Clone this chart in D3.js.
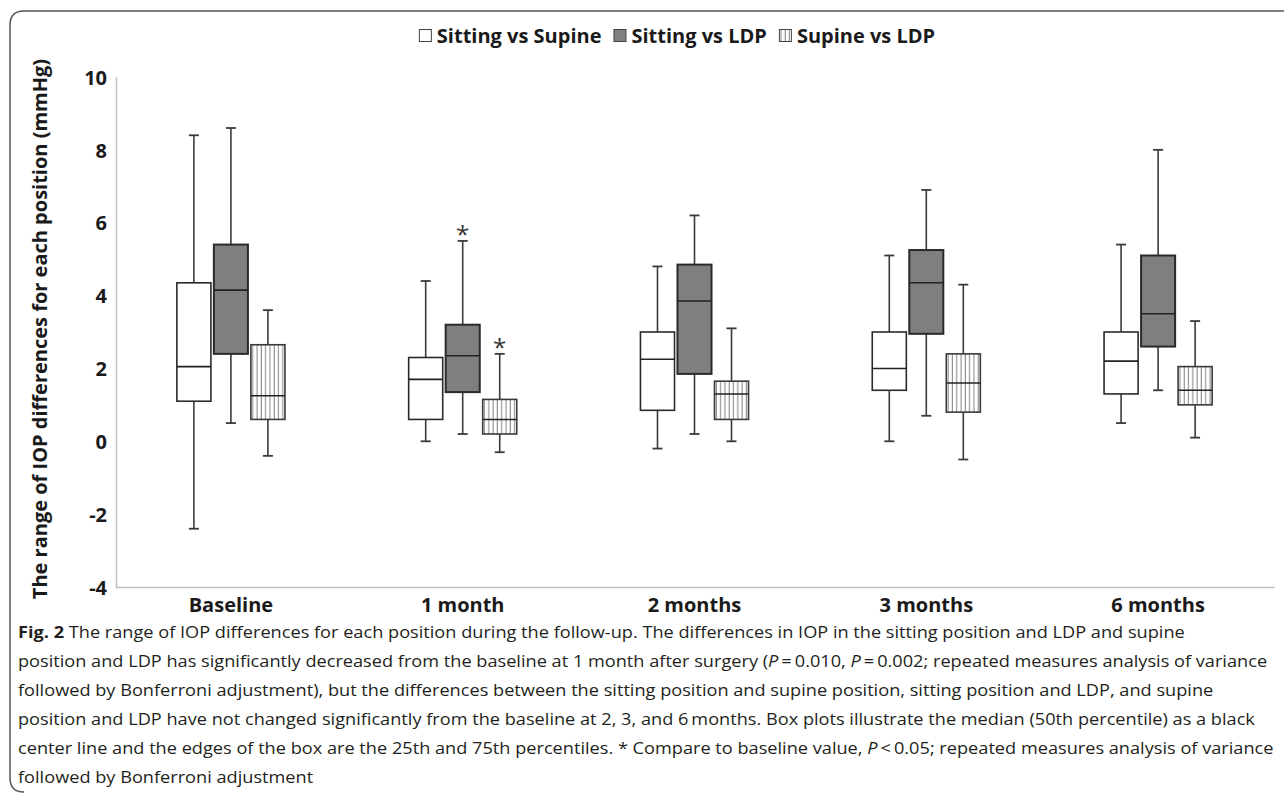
<!DOCTYPE html>
<html>
<head>
<meta charset="utf-8"/>
<title>IOP differences</title>
<script src="https://cdn.jsdelivr.net/npm/d3@7"></script>
<style>
html, body {
    margin: 0;
    padding: 0;
    background: #ffffff;
}
svg text {
    font-family: "Open Sans", "Noto Sans", sans-serif;
}
</style>
</head>
<body>

<svg id="chart" width="1284" height="793"></svg>

<script>

// Categories and series.
const categories = ["Baseline", "1 month", "2 months", "3 months", "6 months"];
const series = ["Sitting vs Supine", "Sitting vs LDP", "Supine vs LDP"];
const yTicks = [-4, -2, 0, 2, 4, 6, 8, 10];

// Sitting vs Supine: whisker low, 25th, median, 75th, whisker high.
const sitSupMin = [-2.4, 0.0, -0.2, 0.0, 0.5];
const sitSupQ1  = [1.1, 0.6, 0.85, 1.4, 1.3];
const sitSupMed = [2.05, 1.7, 2.25, 2.0, 2.2];
const sitSupQ3  = [4.35, 2.3, 3.0, 3.0, 3.0];
const sitSupMax = [8.4, 4.4, 4.8, 5.1, 5.4];

// Sitting vs LDP.
const sitLdpMin = [0.5, 0.2, 0.2, 0.7, 1.4];
const sitLdpQ1  = [2.4, 1.35, 1.85, 2.95, 2.6];
const sitLdpMed = [4.15, 2.35, 3.85, 4.35, 3.5];
const sitLdpQ3  = [5.4, 3.2, 4.85, 5.25, 5.1];
const sitLdpMax = [8.6, 5.5, 6.2, 6.9, 8.0];

// Supine vs LDP.
const supLdpMin = [-0.4, -0.3, 0.0, -0.5, 0.1];
const supLdpQ1  = [0.6, 0.2, 0.6, 0.8, 1.0];
const supLdpMed = [1.25, 0.6, 1.3, 1.6, 1.4];
const supLdpQ3  = [2.65, 1.15, 1.65, 2.4, 2.05];
const supLdpMax = [3.6, 2.4, 3.1, 4.3, 3.3];

// Significant vs baseline (asterisks).
const starCategory = ["1 month", "1 month"];
const starSeries = ["Sitting vs LDP", "Supine vs LDP"];

const yTitle = "The range of IOP differences for each position (mmHg)";

const caption = [
    [{t: "Fig. 2", b: true}, {t: "  The range of IOP differences for each position during the follow-up. The differences in IOP in the sitting position and LDP and supine"}],
    [{t: "position and LDP has significantly decreased from the baseline at 1 month after surgery ("}, {t: "P", i: true}, {t: "\u2009=\u20090.010, "}, {t: "P", i: true}, {t: "\u2009=\u20090.002; repeated measures analysis of variance"}],
    [{t: "followed by Bonferroni adjustment), but the differences between the sitting position and supine position, sitting position and LDP, and supine"}],
    [{t: "position and LDP have not changed significantly from the baseline at 2, 3, and 6\u2009months. Box plots illustrate the median (50th percentile) as a black"}],
    [{t: "center line and the edges of the box are the 25th and 75th percentiles. * Compare to baseline value, "}, {t: "P", i: true}, {t: "\u2009<\u20090.05; repeated measures analysis of variance"}],
    [{t: "followed by Bonferroni adjustment"}]
];

// Build box records from the arrays.
const stats = [
    [sitSupMin, sitSupQ1, sitSupMed, sitSupQ3, sitSupMax],
    [sitLdpMin, sitLdpQ1, sitLdpMed, sitLdpQ3, sitLdpMax],
    [supLdpMin, supLdpQ1, supLdpMed, supLdpQ3, supLdpMax]
];
const boxes = [];
series.forEach((s, si) => {
    categories.forEach((c, ci) => {
        boxes.push({
            series: s, cat: c,
            min: stats[si][0][ci], q1: stats[si][1][ci], med: stats[si][2][ci],
            q3: stats[si][3][ci], max: stats[si][4][ci]
        });
    });
});

const svg = d3.select("#chart");

// Pattern for the hatched series.
const defs = svg.append("defs");
defs.append("pattern")
    .attr("id", "vhatch")
    .attr("patternUnits", "userSpaceOnUse")
    .attr("width", 4.3)
    .attr("height", 10)
    .append("line")
    .attr("x1", 2).attr("x2", 2)
    .attr("y1", 0).attr("y2", 10)
    .attr("stroke", "#808080")
    .attr("stroke-width", 1);

const fills = {"Sitting vs Supine": "#ffffff", "Sitting vs LDP": "#7f7f7f", "Supine vs LDP": "url(#vhatch)"};

// Frame.
svg.append("path")
    .attr("d", "M1284,11 H24 Q10,11 10,25 V778 Q10,792 24,792")
    .attr("fill", "none")
    .attr("stroke", "#555555")
    .attr("stroke-width", 1.5);

// Scales.
const x = d3.scaleBand().domain(categories).range([115, 1274]);
const sub = d3.scaleBand().domain(series).range([-57, 57]).padding(0.08);
const y = d3.scaleLinear().domain([-4, 10]).range([587, 77]);

// Axes.
const yAxis = svg.append("g")
    .attr("transform", "translate(116,0)")
    .call(d3.axisLeft(y).tickValues(yTicks).tickSize(0).tickPadding(9).tickFormat(d => d < 0 ? "-" + Math.abs(d) : d));
const xAxis = svg.append("g")
    .attr("transform", "translate(0,587)")
    .call(d3.axisBottom(x).tickSize(0).tickPadding(11));
[yAxis, xAxis].forEach(g => {
    g.select(".domain").attr("stroke", "#bfbfbf").attr("stroke-width", 1.5);
    g.selectAll("text")
        .attr("fill", "#1a1a1a")
        .style("font-size", "20px")
        .style("font-weight", "700");
});
yAxis.selectAll("text").attr("dy", "0.36em");

// Y axis title.
svg.append("text")
    .attr("transform", "translate(47,329) rotate(-90)")
    .attr("text-anchor", "middle")
    .attr("fill", "#1a1a1a")
    .style("font-size", "20px")
    .style("font-weight", "700")
    .text(yTitle);

// Box plots.
const bw = sub.bandwidth();
const g = svg.append("g");
const item = g.selectAll("g.box")
    .data(boxes)
    .join("g")
    .attr("class", "box")
    .attr("transform", d => "translate(" + (x(d.cat) + x.bandwidth() / 2 + sub(d.series) + bw / 2) + ",0)");

const stroke = "#3a3a3a";
// Whiskers.
item.append("line")
    .attr("x1", 0).attr("x2", 0)
    .attr("y1", d => y(d.max)).attr("y2", d => y(d.q3))
    .attr("stroke", stroke).attr("stroke-width", 1.6);
item.append("line")
    .attr("x1", 0).attr("x2", 0)
    .attr("y1", d => y(d.q1)).attr("y2", d => y(d.min))
    .attr("stroke", stroke).attr("stroke-width", 1.6);
// Caps.
item.append("line")
    .attr("x1", -5).attr("x2", 5)
    .attr("y1", d => y(d.max)).attr("y2", d => y(d.max))
    .attr("stroke", stroke).attr("stroke-width", 1.8);
item.append("line")
    .attr("x1", -5).attr("x2", 5)
    .attr("y1", d => y(d.min)).attr("y2", d => y(d.min))
    .attr("stroke", stroke).attr("stroke-width", 1.8);
// Boxes.
item.append("rect")
    .attr("x", -bw / 2)
    .attr("width", bw)
    .attr("y", d => y(d.q3))
    .attr("height", d => y(d.q1) - y(d.q3))
    .attr("fill", d => fills[d.series])
    .attr("stroke", d => d.series === "Supine vs LDP" ? "#3a3a3a" : "#2a2a2a")
    .attr("stroke-width", d => d.series === "Sitting vs LDP" ? 2 : 1.6);
// Medians.
item.append("line")
    .attr("x1", -bw / 2).attr("x2", bw / 2)
    .attr("y1", d => y(d.med)).attr("y2", d => y(d.med))
    .attr("stroke", "#222222").attr("stroke-width", 1.6);

// Asterisks.
starCategory.forEach((c, i) => {
    const b = boxes.find(d => d.cat === c && d.series === starSeries[i]);
    svg.append("text")
        .attr("x", x(c) + x.bandwidth() / 2 + sub(starSeries[i]) + bw / 2)
        .attr("y", y(b.max) + 2)
        .attr("text-anchor", "middle")
        .attr("fill", "#333333")
        .style("font-size", "24px")
        .text("*");
});

// Legend.
const legend = svg.append("g");
let lx = 0;
series.forEach(s => {
    const it = legend.append("g").attr("transform", "translate(" + lx + ",0)");
    it.append("rect")
        .attr("x", 0.5).attr("y", -13.5)
        .attr("width", 12).attr("height", 12)
        .attr("fill", fills[s])
        .attr("stroke", "#444444")
        .attr("stroke-width", 1);
    const t = it.append("text")
        .attr("x", 18)
        .attr("y", 0)
        .attr("fill", "#1a1a1a")
        .style("font-size", "20px")
        .style("font-weight", "700")
        .text(s);
    lx += 18 + t.node().getComputedTextLength() + 12;
});
legend.attr("transform", "translate(" + (677 - (lx - 12) / 2) + ",43)");

// Caption.
const cap = svg.append("g");
const capLines = caption.map((parts, i) => {
    const t = cap.append("text")
        .attr("x", 0)
        .attr("y", 0)
        .attr("fill", "#231f20")
        .style("font-size", "16px")
        .attr("transform", "translate(18," + (638 + i * 29) + ")");
    parts.forEach(p => {
        t.append("tspan")
            .style("font-weight", p.b ? "700" : "400")
            .style("font-style", p.i ? "italic" : "normal")
            .text(p.t);
    });
    return t;
});
const widest = capLines[1].node().getComputedTextLength();
const k = 1250 / widest;
capLines.forEach((t, i) => {
    t.attr("transform", "translate(18," + (638 + i * 29) + ") scale(" + k + ",1)");
});

</script>

</body>
</html>
